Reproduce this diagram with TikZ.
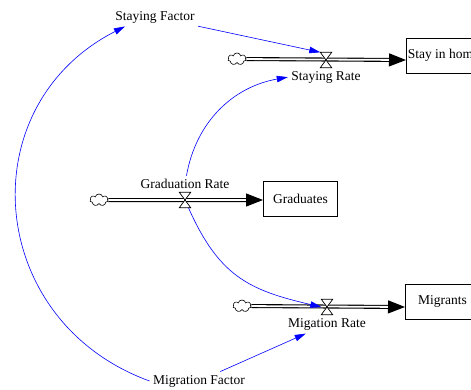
\documentclass[tikz,border=0pt]{standalone}
\usepackage{fontspec}
\setmainfont{Liberation Serif}
\usetikzlibrary{shapes, arrows.meta, positioning}
\tikzstyle{stock} = [rectangle, minimum width=74pt, minimum height=35pt, inner sep=1pt, text centered, draw=black, line width=0.8pt]
\tikzstyle{valve} = [rectangle, minimum width=11pt, minimum height=15pt, inner sep=0pt]
\tikzstyle{source} = [cloud, cloud puffs=7, aspect=1.5, minimum width=18pt, minimum height=12pt, inner sep=0pt, draw=black, fill=white, line width=0.6pt]
\tikzstyle{flow} = [draw=black, line width=1.1pt, double=white, double distance=1.8pt, -{Triangle[length=17pt, width=13pt]}]
\tikzstyle{gate} = [draw=black, fill=white, line width=0.7pt]
\tikzstyle{link} = [draw=blue, line width=0.6pt, -{Triangle[length=11pt, width=6.5pt]}]

\begin{document}
\begin{tikzpicture}[x=1pt, y=1pt, font=\fontsize{13.5pt}{16pt}\selectfont]
\useasboundingbox (0,0) rectangle (471,389);
\clip (0,0) rectangle (471,389);

% stay in home
\node (stayvalve) [valve] at (326,329) {};
\node (staycloud) [source] at (237,330) {};
\node (stayrate) [below=0pt of stayvalve] {Staying Rate};
\node (stayhome) [stock, anchor=west] at (406,333.5) {Stay in home};

% graduates
\node (gradvalve) [valve] at (185,189) {};
\node (gradcloud) [source] at (99,189) {};
\node (gradrate) [above=0pt of gradvalve] {Graduation Rate};
\node (graduates) [stock, anchor=west] at (263,190.5) {Graduates};

% migrants
\node (migvalve) [valve] at (327,82) {};
\node (migcloud) [source] at (242,83) {};
\node (migrate) [below=0pt of migvalve] {Migation Rate};
\node (migrants) [stock, anchor=west] at (405,87.5) {Migrants};

\node (stayfactor) at (155,372) {Staying Factor};
\node (migfactor) at (199,8) {Migration Factor};

\draw [flow] (staycloud) -- (stayhome.west |- stayvalve);
\draw [flow] (gradcloud) -- (graduates.west |- gradvalve);
\draw [flow] (migcloud) -- (migrants.west |- migvalve);

\draw [gate] (stayvalve.north west) -- (stayvalve.north east) -- (stayvalve.south west) -- (stayvalve.south east) -- cycle;
\draw [gate] (gradvalve.north west) -- (gradvalve.north east) -- (gradvalve.south west) -- (gradvalve.south east) -- cycle;
\draw [gate] (migvalve.north west) -- (migvalve.north east) -- (migvalve.south west) -- (migvalve.south east) -- cycle;

\draw [link] (stayfactor) -- (stayvalve.north west);
\draw [link] (gradrate) to[out=80, in=190] (stayrate.west);
\draw [link] (gradvalve) to[out=-66, in=167, looseness=1.15] (migvalve.west);
\draw [link] (migfactor) -- (migrate);
\draw [link] (migfactor.west) to[out=160, in=207, looseness=1.26] ([xshift=13pt]stayfactor.south west);

\end{tikzpicture}
\end{document}
